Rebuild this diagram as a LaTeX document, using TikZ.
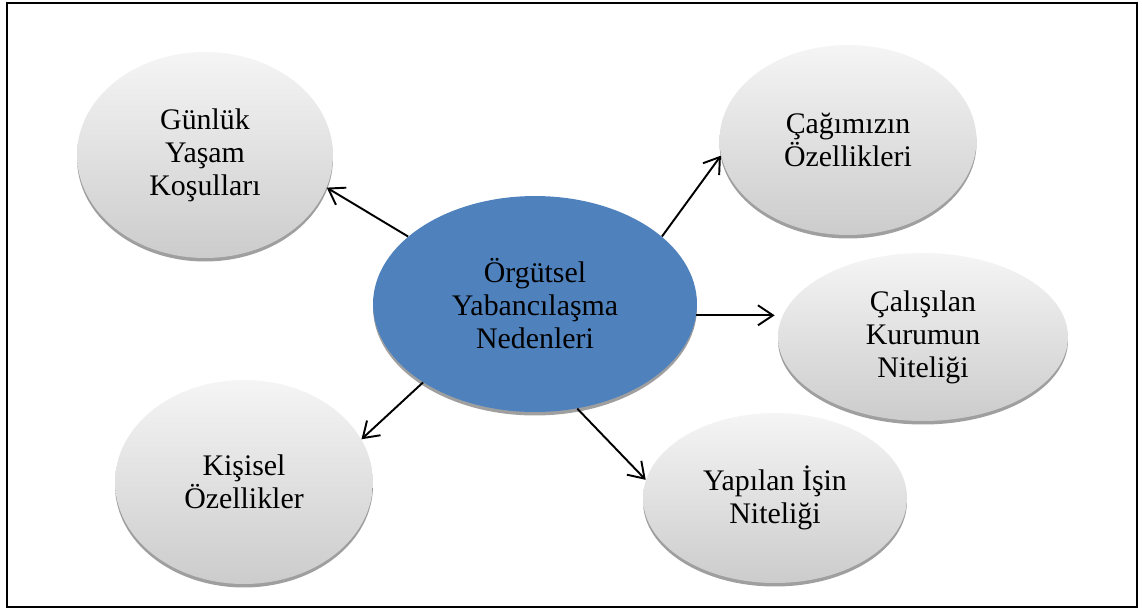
\documentclass[tikz,border=0pt]{standalone}
\usepackage{fontspec}
\setmainfont{Liberation Serif}
\usetikzlibrary{shapes,arrows.meta,shadows}
\definecolor{coreblue}{HTML}{4F81BD}
\tikzstyle{cause} = [ellipse, inner sep=0pt, top color=gray!8, bottom color=gray!40,
    text centered, align=center, font=\fontsize{17}{18.8}\selectfont,
    drop shadow={shadow xshift=0pt, shadow yshift=-0.07cm, fill=gray!75, opacity=1}]
\tikzstyle{core} = [ellipse, inner sep=0pt, fill=coreblue,
    text centered, align=center, font=\fontsize{17}{18.8}\selectfont,
    drop shadow={shadow xshift=0pt, shadow yshift=-0.07cm, fill=gray!75, opacity=1}]
\tikzstyle{line} = [draw, line width=1.1pt, -{Straight Barb[length=3mm,width=4mm]}]

\begin{document}
\begin{tikzpicture}[x=0.02cm, y=-0.02cm]
		\useasboundingbox (0,0) rectangle (1142,613);
		\draw[line width=0.9pt] (7,3) rectangle (1137,607);

		\node [core, minimum width=6.48cm, minimum height=4.32cm] (neden) at (535,304) {Örgütsel\\Yabancılaşma\\Nedenleri};
		\node [cause, minimum width=5.12cm, minimum height=4.12cm] (gunluk) at (205,155) {Günlük\\Yaşam\\Koşulları};
		\node [cause, minimum width=5.14cm, minimum height=3.8cm] (cag) at (848,140) {Çağımızın\\Özellikleri};
		\node [cause, minimum width=5.8cm, minimum height=3.36cm] (kurum) at (923,337) {Çalışılan\\Kurumun\\Niteliği};
		\node [cause, minimum width=5.28cm, minimum height=3.4cm] (is) at (775,498) {Yapılan İşin\\Niteliği};
		\node [cause, minimum width=5.16cm, minimum height=4.08cm] (kisi) at (244,482) {Kişisel\\Özellikler};

		\path [line] (neden.152) -- (gunluk.-15);
		\path [line] (neden.28) -- (cag.187);
		\path [line] (neden.-4) -- ([xshift=-0.06cm]neden.-4 -| kurum.west);
		\path [line] (neden.215) -- (kisi.20);
		\path [line] (neden.-68) -- (is.172);
	\end{tikzpicture}
\end{document}
